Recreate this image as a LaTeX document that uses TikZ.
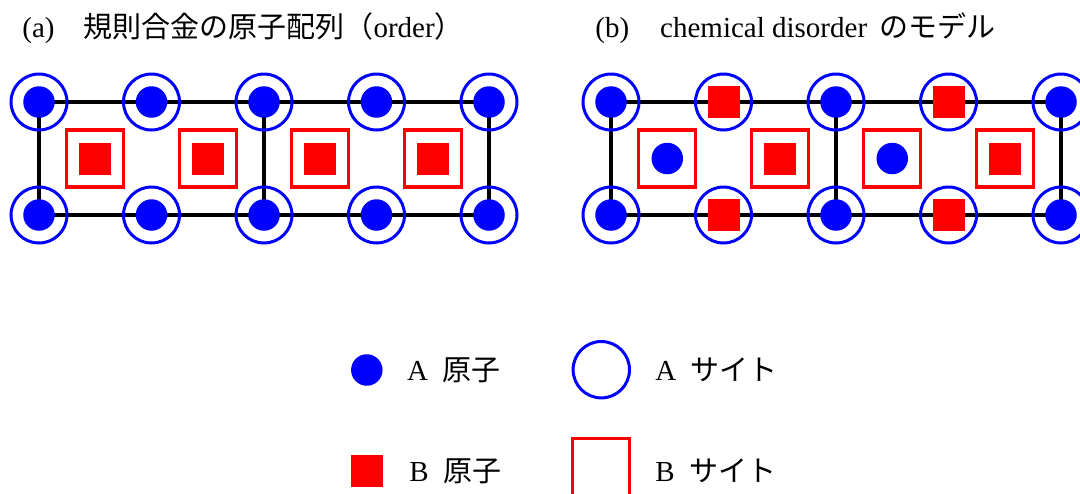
\documentclass[tikz,border=0pt]{standalone}
\usepackage{fontspec}
\setmainfont{Liberation Serif}
\newfontfamily\jp{Noto Sans CJK JP}
\usetikzlibrary{backgrounds}
\begin{document}
\begin{tikzpicture}[x=0.5pt,y=-0.5pt,
  bond/.style={line width=1.6pt,draw=black},
  asite/.style={circle,draw=blue,line width=1.5pt,minimum size=28pt,inner sep=0pt,outer sep=0pt},
  bsite/.style={rectangle,draw=red,line width=1.6pt,minimum size=28.5pt,inner sep=0pt,outer sep=0pt},
  aatom/.style={circle,fill=blue,minimum size=15.75pt,inner sep=0pt,outer sep=0pt},
  batom/.style={rectangle,fill=red,minimum size=16pt,inner sep=0pt,outer sep=0pt},
  lbl/.style={anchor=base west,inner sep=0pt,font=\fontsize{14.5}{17}\selectfont}]
\useasboundingbox (0,0) rectangle (1080,493);
\clip (0,0) rectangle (1080,493);

% titles
\node[lbl] (ta) at (22,37.5) {(a)\hspace{1em}{\jp 規則合金の原子配列（}order{\jp ）}};
\node[lbl] (tb) at (595,37.5) {(b)\hspace{15.5pt}chemical disorder\hspace{6pt}{\jp のモデル}};

% (a) ordered alloy: A atoms on A sites, B atoms on B sites
\foreach \i in {0,...,4} {
  \node[asite] (aT\i) at ({39+112.5*\i},102) {};
  \node[aatom] (aTx\i) at (aT\i) {};
  \node[asite] (aB\i) at ({39+112.5*\i},215) {};
  \node[aatom] (aBx\i) at (aB\i) {};
}
\foreach \i in {0,...,3} {
  \node[bsite] (aM\i) at ({95.25+112.5*\i},158.5) {};
  \node[batom] (aMx\i) at (aM\i) {};
}
\begin{scope}[on background layer]
  \draw[bond] (aT0.center) -- (aT4.center);
  \draw[bond] (aB0.center) -- (aB4.center);
  \foreach \i in {0,2,4} \draw[bond] (aT\i.center) -- (aB\i.center);
\end{scope}

% (b) chemical disorder model
\foreach \i/\k in {0/aatom,1/batom,2/aatom,3/batom,4/aatom} {
  \node[asite] (bT\i) at ({611+112.5*\i},102) {};
  \node[\k] (bTx\i) at (bT\i) {};
  \node[asite] (bB\i) at ({611+112.5*\i},215) {};
  \node[\k] (bBx\i) at (bB\i) {};
}
\foreach \i/\k in {0/aatom,1/batom,2/aatom,3/batom} {
  \node[bsite] (bM\i) at ({667.25+112.5*\i},158.5) {};
  \node[\k] (bMx\i) at (bM\i) {};
}
\begin{scope}[on background layer]
  \draw[bond] (bT0.center) -- (bT4.center);
  \draw[bond] (bB0.center) -- (bB4.center);
  \foreach \i in {0,2,4} \draw[bond] (bT\i.center) -- (bB\i.center);
\end{scope}

% legend
\node[aatom] (la) at (366.8,370) {};
\node[lbl] (lat) at (406.7,380.7) {A\hspace{0.5em}{\jp 原子}};
\node[asite,minimum size=28.2pt] (lsa) at (601.3,369.7) {};
\node[lbl] (lsat) at (655,380.7) {A\hspace{0.5em}{\jp サイト}};
\node[batom] (lb) at (366.8,470.5) {};
\node[lbl] (lbt) at (409,481.7) {B\hspace{0.5em}{\jp 原子}};
\node[bsite] (lsb) at (601.3,467) {};
\node[lbl] (lsbt) at (655,481.7) {B\hspace{0.5em}{\jp サイト}};
\end{tikzpicture}
\end{document}
